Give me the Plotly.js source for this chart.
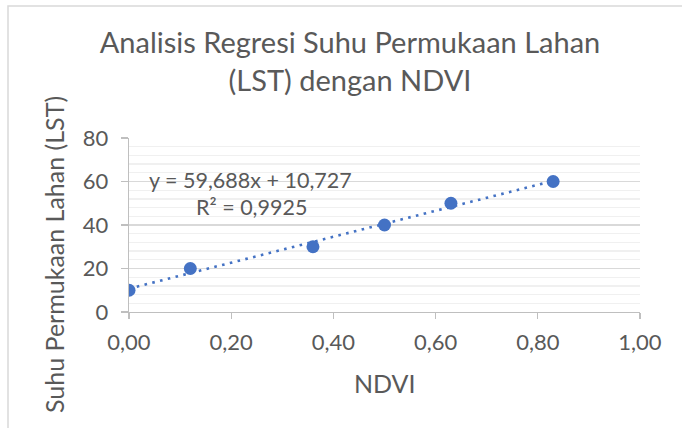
<!DOCTYPE html>
<html>
<head>
<meta charset="utf-8">
<script src="https://cdn.plot.ly/plotly-3.0.1.min.js"></script>
<style>html,body{margin:0;padding:0;background:#fff;}#chart{width:682px;height:428px;}</style>
</head>
<body>
<div id="chart"></div>
<script>
// Data
const ndvi = [0.00, 0.12, 0.36, 0.50, 0.63, 0.83];
const lst = [10, 20, 30, 40, 50, 60];
const xTickVals = [0, 0.2, 0.4, 0.6, 0.8, 1.0];
const xTickText = ["0,00", "0,20", "0,40", "0,60", "0,80", "1,00"];
const yTickVals = [0, 20, 40, 60, 80];
const yTickText = ["0", "20", "40", "60", "80"];
const chartTitle = "Analisis Regresi Suhu Permukaan Lahan<br>(LST) dengan NDVI";
const xTitle = "NDVI";
const yTitle = "Suhu Permukaan Lahan (LST)";
const eqText = "y = 59,688x + 10,727";
const r2Text = "R² = 0,9925";

// Least-squares linear trendline from the data
const n = ndvi.length;
const mx = ndvi.reduce((a, b) => a + b, 0) / n;
const my = lst.reduce((a, b) => a + b, 0) / n;
let sxy = 0, sxx = 0;
for (let i = 0; i < n; i++) { sxy += (ndvi[i] - mx) * (lst[i] - my); sxx += (ndvi[i] - mx) ** 2; }
const slope = sxy / sxx, intercept = my - slope * mx;
const trendX = [Math.min(...ndvi), Math.max(...ndvi)];
const trendY = trendX.map(x => slope * x + intercept);

const FONT = "Lato, 'Open Sans', sans-serif";
const TXT = "#595959";
const W = 682, H = 428, L = 129, R = 42, T = 138, B = 116;
const pw = W - L - R, ph = H - T - B;
const px = x => (x - L) / pw;
const py = y => (H - B - y) / ph;

const traces = [
  { x: trendX, y: trendY, mode: "lines", line: { color: "#4472C4", width: 2.6, dash: "2.6px,5.4px" }, hoverinfo: "skip" },
  { x: ndvi, y: lst, mode: "markers", marker: { color: "#4472C4", size: 13 } }
];

const layout = {
  width: W, height: H,
  margin: { l: L, r: R, t: T, b: B, pad: 0 },
  paper_bgcolor: "#ffffff", plot_bgcolor: "#ffffff",
  showlegend: false,
  font: { family: FONT, color: TXT, size: 22 },
  title: {
    text: chartTitle, font: { family: FONT, size: 29, color: TXT },
    xref: "container", x: 350 / W, xanchor: "center",
    yref: "container", y: 1 - 53 / H, yanchor: "top"
  },
  xaxis: {
    range: [0, 1], tickvals: xTickVals, ticktext: xTickText,
    showgrid: false, zeroline: false,
    showline: true, linecolor: "#bfbfbf", linewidth: 1.3,
    ticks: "outside", ticklen: 6, tickcolor: "#bfbfbf", tickwidth: 1.3,
    tickfont: { family: FONT, size: 22, color: TXT },
    ticklabelstandoff: 4,
    fixedrange: true
  },
  yaxis: {
    range: [0, 80], tickvals: yTickVals, ticktext: yTickText,
    showgrid: true, gridcolor: "#d9d9d9", gridwidth: 1.3,
    minor: { dtick: 4, showgrid: true, gridcolor: "#f0f0f0", gridwidth: 1.3, ticks: "" },
    zeroline: false,
    showline: true, linecolor: "#bfbfbf", linewidth: 1.3,
    ticks: "outside", ticklen: 7, tickcolor: "#bfbfbf", tickwidth: 1.3,
    tickfont: { family: FONT, size: 22, color: TXT },
    ticklabelstandoff: 8,
    fixedrange: true
  },
  annotations: [
    { text: xTitle, xref: "paper", yref: "paper", x: px(385), y: py(383), xanchor: "center", yanchor: "middle", showarrow: false, font: { family: FONT, size: 25, color: TXT } },
    { text: yTitle, xref: "paper", yref: "paper", x: px(54), y: py(255), xanchor: "center", yanchor: "middle", textangle: -90, showarrow: false, font: { family: FONT, size: 25, color: TXT } },
    { text: eqText, xref: "paper", yref: "paper", x: px(250), y: py(180), xanchor: "center", yanchor: "middle", showarrow: false, font: { family: FONT, size: 21.5, color: TXT } },
    { text: r2Text, xref: "paper", yref: "paper", x: px(251), y: py(207), xanchor: "center", yanchor: "middle", showarrow: false, font: { family: FONT, size: 21.5, color: TXT } }
  ],
  shapes: [
    { type: "rect", xref: "paper", yref: "paper", x0: px(8), x1: px(700), y0: py(6), y1: py(450), line: { color: "#d9d9d9", width: 1.5 }, layer: "below" }
  ]
};

Plotly.newPlot("chart", traces, layout, { displayModeBar: false, staticPlot: true });
</script>
</body>
</html>
